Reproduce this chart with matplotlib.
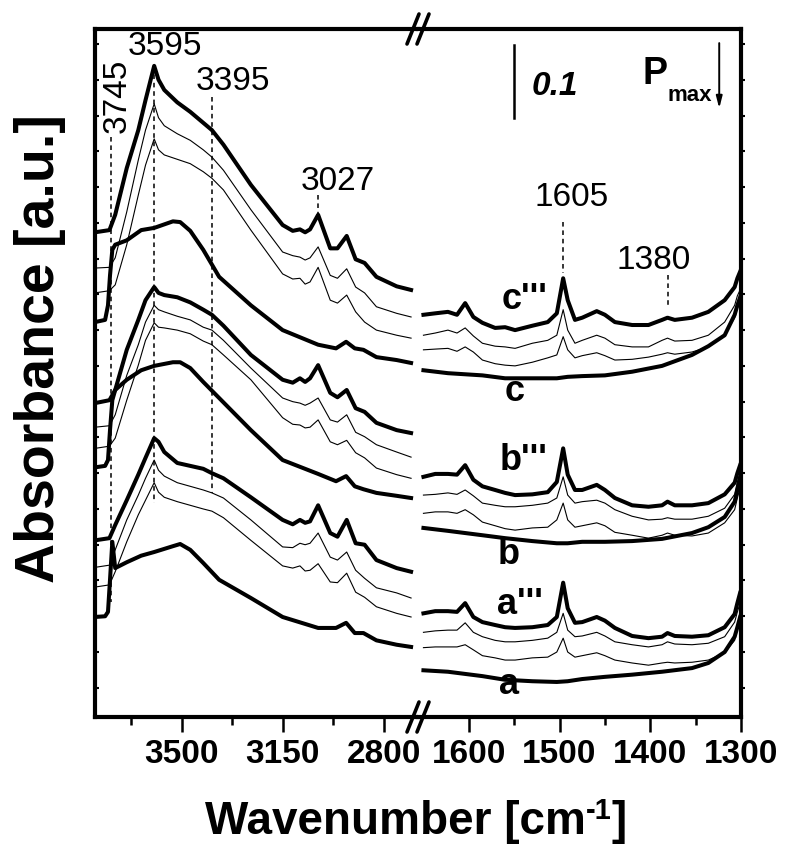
import numpy as np
import matplotlib
matplotlib.use("Agg")
import matplotlib.pyplot as plt
from matplotlib.lines import Line2D

FONT = ['Liberation Sans', 'DejaVu Sans']
plt.rcParams['font.family'] = FONT

# ---- O-H / C-H region (left panel), wavenumber in cm-1
wn_oh = [3800, 3750, 3730, 3690, 3650, 3625, 3595, 3580, 3560, 3515, 3470, 3425, 3395, 3355,
         3260, 3150, 3115, 3090, 3072, 3055, 3027, 2985, 2960, 2928, 2897, 2866, 2825, 2755, 2705]
wn_oh_base = [3800, 3765, 3755, 3748, 3740, 3730, 3690, 3640, 3595, 3530, 3505, 3470, 3425, 3370,
              3260, 3150, 3027, 2965, 2930, 2900, 2870, 2825, 2755, 2705]

c3_oh = [0.664, 0.667, 0.688, 0.752, 0.804, 0.845, 0.892, 0.873, 0.859, 0.842, 0.829, 0.814, 0.804, 0.784,
         0.729, 0.674, 0.666, 0.668, 0.664, 0.668, 0.688, 0.642, 0.642, 0.659, 0.627, 0.622, 0.603, 0.590, 0.585]
c2_oh = [0.615, 0.616, 0.629, 0.692, 0.763, 0.804, 0.840, 0.821, 0.810, 0.799, 0.790, 0.777, 0.767, 0.749,
         0.695, 0.637, 0.632, 0.630, 0.626, 0.629, 0.644, 0.605, 0.601, 0.614, 0.589, 0.581, 0.562, 0.553, 0.548]
c1_oh = [0.581, 0.584, 0.592, 0.647, 0.715, 0.756, 0.792, 0.777, 0.770, 0.764, 0.758, 0.747, 0.738, 0.722,
         0.667, 0.607, 0.600, 0.601, 0.593, 0.596, 0.616, 0.571, 0.567, 0.578, 0.555, 0.541, 0.530, 0.523, 0.519]
c0_oh = [0.541, 0.544, 0.564, 0.605, 0.640, 0.647, 0.653, 0.667, 0.670, 0.679, 0.678, 0.666, 0.640, 0.603,
         0.564, 0.530, 0.510, 0.505, 0.514, 0.505, 0.503, 0.493, 0.489, 0.485]

b3_oh = [0.430, 0.434, 0.448, 0.503, 0.544, 0.571, 0.589, 0.581, 0.578, 0.575, 0.568, 0.558, 0.551, 0.536,
         0.496, 0.462, 0.458, 0.464, 0.459, 0.464, 0.482, 0.444, 0.438, 0.448, 0.423, 0.418, 0.403, 0.393, 0.389]
b2_oh = [0.397, 0.399, 0.414, 0.468, 0.510, 0.541, 0.564, 0.558, 0.555, 0.549, 0.544, 0.534, 0.530, 0.516,
         0.478, 0.437, 0.432, 0.430, 0.427, 0.430, 0.437, 0.407, 0.404, 0.414, 0.390, 0.384, 0.373, 0.363, 0.356]
b1_oh = [0.368, 0.371, 0.382, 0.434, 0.482, 0.516, 0.540, 0.534, 0.533, 0.530, 0.525, 0.515, 0.510, 0.496,
         0.462, 0.410, 0.401, 0.400, 0.396, 0.397, 0.407, 0.377, 0.373, 0.379, 0.362, 0.355, 0.341, 0.332, 0.327]
b0_oh = [0.342, 0.344, 0.352, 0.393, 0.434, 0.448, 0.462, 0.475, 0.481, 0.486, 0.486, 0.478, 0.459, 0.437,
         0.393, 0.352, 0.333, 0.323, 0.330, 0.316, 0.312, 0.307, 0.303, 0.300]

a3_oh = [0.242, 0.245, 0.263, 0.297, 0.332, 0.355, 0.382, 0.377, 0.363, 0.348, 0.344, 0.340, 0.334, 0.327,
         0.301, 0.270, 0.264, 0.270, 0.266, 0.268, 0.290, 0.252, 0.247, 0.270, 0.238, 0.236, 0.215, 0.204, 0.199]
a2_oh = [0.205, 0.208, 0.229, 0.270, 0.304, 0.327, 0.352, 0.338, 0.330, 0.321, 0.316, 0.311, 0.307, 0.300,
         0.270, 0.233, 0.232, 0.238, 0.236, 0.238, 0.252, 0.219, 0.215, 0.226, 0.201, 0.190, 0.177, 0.170, 0.163]
a1_oh = [0.178, 0.181, 0.199, 0.240, 0.277, 0.297, 0.321, 0.308, 0.301, 0.295, 0.290, 0.285, 0.282, 0.273,
         0.242, 0.207, 0.204, 0.207, 0.200, 0.201, 0.210, 0.185, 0.184, 0.197, 0.171, 0.164, 0.151, 0.142, 0.137]
a0_oh = [0.137, 0.138, 0.144, 0.188, 0.240, 0.204, 0.212, 0.221, 0.226, 0.234, 0.237, 0.229, 0.211, 0.188,
         0.163, 0.137, 0.122, 0.122, 0.129, 0.115, 0.115, 0.105, 0.099, 0.096]

# ---- 1650-1300 cm-1 region (right panel)
wn_cc = [1650, 1637, 1623, 1613, 1604, 1595, 1585, 1571, 1560, 1549, 1530, 1513, 1503, 1496, 1491, 1483,
         1475, 1459, 1450, 1439, 1420, 1402, 1387, 1381, 1373, 1354, 1336, 1318, 1307, 1304, 1301]
wn_cc_base = [1650, 1623, 1585, 1560, 1530, 1503, 1491, 1475, 1450, 1420, 1387, 1354, 1336, 1318, 1307, 1304, 1301]

c3_cc = [0.551, 0.553, 0.555, 0.551, 0.567, 0.548, 0.540, 0.533, 0.534, 0.530, 0.536, 0.541, 0.553, 0.601, 0.571, 0.544,
         0.547, 0.556, 0.551, 0.541, 0.537, 0.537, 0.544, 0.547, 0.544, 0.547, 0.555, 0.571, 0.589, 0.601, 0.610]
c2_cc = [0.523, 0.526, 0.530, 0.526, 0.533, 0.522, 0.512, 0.508, 0.507, 0.505, 0.512, 0.516, 0.523, 0.558, 0.530, 0.512,
         0.516, 0.523, 0.519, 0.510, 0.507, 0.507, 0.516, 0.519, 0.515, 0.516, 0.523, 0.541, 0.564, 0.577, 0.585]
c1_cc = [0.503, 0.504, 0.505, 0.501, 0.507, 0.500, 0.489, 0.484, 0.482, 0.481, 0.486, 0.492, 0.496, 0.521, 0.503, 0.492,
         0.495, 0.499, 0.495, 0.489, 0.490, 0.493, 0.497, 0.499, 0.497, 0.500, 0.507, 0.523, 0.547, 0.560, 0.568]
c0_cc = [0.475, 0.471, 0.468, 0.464, 0.464, 0.464, 0.466, 0.467, 0.468, 0.473, 0.481, 0.496, 0.508, 0.523, 0.551, 0.564, 0.575]

b3_cc = [0.329, 0.333, 0.333, 0.332, 0.345, 0.325, 0.316, 0.311, 0.307, 0.304, 0.305, 0.308, 0.322, 0.368, 0.332, 0.311,
         0.311, 0.318, 0.311, 0.300, 0.290, 0.288, 0.290, 0.295, 0.290, 0.290, 0.293, 0.305, 0.321, 0.334, 0.345]
b2_cc = [0.304, 0.305, 0.307, 0.305, 0.311, 0.303, 0.293, 0.290, 0.288, 0.288, 0.290, 0.293, 0.300, 0.329, 0.304, 0.293,
         0.295, 0.297, 0.293, 0.284, 0.275, 0.270, 0.271, 0.273, 0.271, 0.271, 0.275, 0.286, 0.305, 0.322, 0.336]
b1_cc = [0.279, 0.281, 0.281, 0.279, 0.284, 0.277, 0.267, 0.262, 0.258, 0.256, 0.259, 0.260, 0.270, 0.293, 0.270, 0.260,
         0.262, 0.266, 0.262, 0.253, 0.249, 0.245, 0.249, 0.252, 0.249, 0.248, 0.252, 0.266, 0.284, 0.300, 0.314]
b0_cc = [0.259, 0.255, 0.249, 0.245, 0.241, 0.238, 0.238, 0.240, 0.240, 0.241, 0.244, 0.252, 0.260, 0.274, 0.295, 0.311, 0.327]

a3_cc = [0.142, 0.145, 0.145, 0.144, 0.156, 0.137, 0.130, 0.126, 0.123, 0.122, 0.123, 0.126, 0.137, 0.184, 0.149, 0.129,
         0.130, 0.137, 0.132, 0.122, 0.111, 0.108, 0.110, 0.115, 0.111, 0.110, 0.112, 0.123, 0.141, 0.156, 0.170]
a2_cc = [0.116, 0.118, 0.119, 0.119, 0.129, 0.116, 0.110, 0.105, 0.103, 0.103, 0.105, 0.108, 0.116, 0.142, 0.119, 0.110,
         0.111, 0.116, 0.111, 0.103, 0.099, 0.096, 0.099, 0.103, 0.100, 0.099, 0.101, 0.110, 0.130, 0.144, 0.156]
a1_cc = [0.095, 0.096, 0.096, 0.096, 0.099, 0.092, 0.084, 0.081, 0.078, 0.078, 0.081, 0.082, 0.089, 0.108, 0.089, 0.082,
         0.084, 0.088, 0.084, 0.078, 0.074, 0.071, 0.074, 0.075, 0.074, 0.075, 0.078, 0.088, 0.105, 0.122, 0.137]
a0_cc = [0.064, 0.062, 0.056, 0.051, 0.049, 0.048, 0.049, 0.052, 0.055, 0.058, 0.062, 0.067, 0.074, 0.089, 0.110, 0.123, 0.137]

# band positions marked with dashed lines: (x, y_top, y_bottom)
oh_marks = [(3745, 0.795, 0.158), (3595, 0.892, 0.293), (3395, 0.849, 0.307), (3027, 0.715, 0.690)]
cc_marks = [(1496, 0.678, 0.608), (1381, 0.605, 0.560)]

THICK, THIN = 2.9, 0.8

W, H = 785, 847
fig = plt.figure(figsize=(W / 100, H / 100), dpi=100)
axL = fig.add_axes([95 / W, 130 / H, 323 / W, 688 / H])
axR = fig.add_axes([418 / W, 130 / H, 323 / W, 688 / H])

left_curves = [(wn_oh, c3_oh, THICK), (wn_oh, c2_oh, THIN), (wn_oh, c1_oh, THIN), (wn_oh_base, c0_oh, THICK),
               (wn_oh, b3_oh, THICK), (wn_oh, b2_oh, THIN), (wn_oh, b1_oh, THIN), (wn_oh_base, b0_oh, THICK),
               (wn_oh, a3_oh, THICK), (wn_oh, a2_oh, THIN), (wn_oh, a1_oh, THIN), (wn_oh_base, a0_oh, THICK)]
right_curves = [(wn_cc, c3_cc, THICK), (wn_cc, c2_cc, THIN), (wn_cc, c1_cc, THIN), (wn_cc_base, c0_cc, THICK),
                (wn_cc, b3_cc, THICK), (wn_cc, b2_cc, THIN), (wn_cc, b1_cc, THIN), (wn_cc_base, b0_cc, THICK),
                (wn_cc, a3_cc, THICK), (wn_cc, a2_cc, THIN), (wn_cc, a1_cc, THIN), (wn_cc_base, a0_cc, THICK)]

for x, y, lw in left_curves:
    axL.plot(x, y, color='k', lw=lw, solid_joinstyle='round')
for x, y, lw in right_curves:
    axR.plot(x, y, color='k', lw=lw, solid_joinstyle='round')

for x, y0, y1 in oh_marks:
    axL.plot([x, x], [y0, y1], color='k', lw=1.1, ls=(0, (3, 2.5)))
for x, y0, y1 in cc_marks:
    axR.plot([x, x], [y0, y1], color='k', lw=1.1, ls=(0, (3, 2.5)))

# axes
YMAX = 0.9425
for ax in (axL, axR):
    ax.set_ylim(0, YMAX)
    for s in ax.spines.values():
        s.set_linewidth(3.0)
    ax.set_yticks(np.arange(0.04, 0.93, 0.049))
    ax.set_yticklabels([])
    ax.tick_params(axis='x', which='major', direction='out', length=11, width=1.8,
                   labelsize=24, pad=5)
    ax.tick_params(axis='x', which='minor', direction='out', length=5.5, width=1.8)

axL.set_xlim(3800, 2681)
axR.set_xlim(1656, 1300)
axL.spines['right'].set_visible(False)
axR.spines['left'].set_visible(False)
axL.set_xticks([3500, 3150, 2800])
axL.set_xticks([3675, 3325, 2975], minor=True)
axR.set_xticks([1600, 1500, 1400, 1300])
axR.set_xticks([1550, 1450, 1350], minor=True)
axL.tick_params(axis='y', left=True, right=False, direction='in', length=3, width=1.5)
axR.tick_params(axis='y', left=False, right=True, direction='out', length=3, width=1.5)
for ax in (axL, axR):
    for lab in ax.get_xticklabels():
        lab.set_fontweight('bold')

# band labels
txt = dict(color='k', fontsize=24, ha='center', va='center')
axL.text(3557, 0.919, '3595', **txt)
axL.text(3322, 0.870, '3395', **txt)
axL.text(2958, 0.734, '3027', **txt)
axL.text(3724, 0.851, '3745', rotation=90, **txt)
axR.text(1487, 0.711, '1605', **txt)
axR.text(1396, 0.626, '1380', **txt)

lab = dict(color='k', fontsize=26, fontweight='bold', ha='center', va='center')
axR.text(1538, 0.572, "c'''", **lab)
axR.text(1550, 0.446, 'c', **lab)
axR.text(1540, 0.351, "b'''", **lab)
axR.text(1556, 0.222, 'b', **lab)
axR.text(1544, 0.154, "a'''", **lab)
axR.text(1556, 0.044, 'a', **lab)

# scale bar and pressure arrow
axR.plot([1550, 1550], [0.821, 0.921], color='k', lw=1.8)
axR.text(1505, 0.864, '0.1', fontsize=24, fontweight='bold', style='italic', ha='center', va='center')
axR.text(1395, 0.881, 'P', fontsize=27, fontweight='bold', ha='center', va='center')
axR.text(1356, 0.852, 'max', fontsize=16, fontweight='bold', ha='center', va='center')
axR.annotate('', xy=(1324, 0.830), xytext=(1324, 0.927),
             arrowprops=dict(arrowstyle='-|>,head_length=0.7,head_width=0.18', lw=1.4, color='k'))

# broken-axis marks
bx = 418 / W
for yc in (1 - 29 / H, 130 / H):
    for off in (-5, 5):
        fig.add_artist(Line2D([bx + (off - 6) / W, bx + (off + 6) / W], [yc - 15 / H, yc + 15 / H],
                              transform=fig.transFigure, color='k', lw=2.6, solid_capstyle='round'))

# x label with a raised "-1"
xl_parts = [('Wavenumber [cm', 33, 0), ('-1', 21, 15), (']', 33, 0)]
xl_texts = [fig.text(0, 0, s, fontsize=fs, fontweight='bold', ha='left', va='baseline')
            for s, fs, dy in xl_parts]
r = fig.canvas.get_renderer()
widths = [t.get_window_extent(r).width for t in xl_texts]
x0 = 416 - sum(widths) / 2
for t, w, (s, fs, dy) in zip(xl_texts, widths, xl_parts):
    t.set_position((x0 / W, (13 + dy) / H))
    x0 += w

fig.text(40 / W, 1 - 349 / H, 'Absorbance [a.u.]', fontsize=40, fontweight='bold',
         rotation=90, ha='center', va='center')

fig.savefig('out.png', dpi=100)
